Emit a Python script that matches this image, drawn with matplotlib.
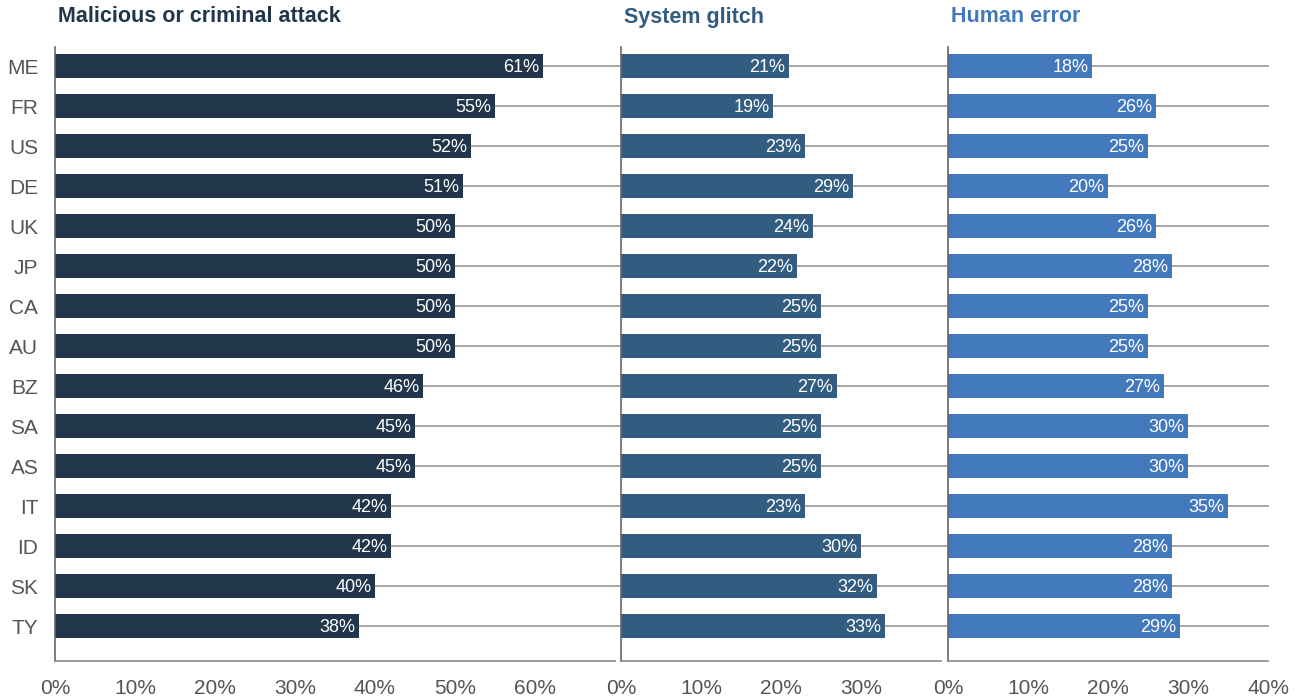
import numpy as np
import matplotlib
matplotlib.use("Agg")
import matplotlib.pyplot as plt

plt.rcParams['font.family'] = ['Liberation Sans', 'DejaVu Sans']

countries = ['ME', 'FR', 'US', 'DE', 'UK', 'JP', 'CA', 'AU', 'BZ', 'SA', 'AS', 'IT', 'ID', 'SK', 'TY']
malicious = [61, 55, 52, 51, 50, 50, 50, 50, 46, 45, 45, 42, 42, 40, 38]
glitch = [21, 19, 23, 29, 24, 22, 25, 25, 27, 25, 25, 23, 30, 32, 33]
human = [18, 26, 25, 20, 26, 28, 25, 25, 27, 30, 30, 35, 28, 28, 29]

titles = ['Malicious or criminal attack', 'System glitch', 'Human error']
colors = ['#22364b', '#325d80', '#4279bc']
series = [malicious, glitch, human]
xmax = [70, 40, 40]
ticks = [np.arange(0, 61, 10), np.arange(0, 31, 10), np.arange(0, 41, 10)]

W, H = 1302, 696
fig = plt.figure(figsize=(W / 100, H / 100), dpi=100)
lefts = [55, 621, 948]
widths = [560, 320, 320]
bottom = 1 - 661 / H
height = (661 - 47) / H

y = np.arange(len(countries))
for i in range(3):
    ax = fig.add_axes([lefts[i] / W, bottom, widths[i] / W, height])
    for yy in y:
        ax.axhline(yy, color='#a8a8a8', lw=1.4, zorder=0, clip_on=False,
                   xmin=-0.02 if i > 0 else 0, xmax=1.0)
    ax.barh(y, series[i], height=0.6, color=colors[i], zorder=2)
    for yy, v in zip(y, series[i]):
        ax.text(v - 0.45, yy, f'{v}%', ha='right', va='center_baseline', color='white',
                fontsize=13, zorder=3)
    ax.set_xlim(0, xmax[i])
    ax.set_ylim(14.875, -0.475)
    ax.set_xticks(ticks[i])
    ax.set_xticklabels([f'{t}%' for t in ticks[i]])
    ax.tick_params(axis='x', length=0, pad=13, labelsize=15, labelcolor='#555555')
    if i == 0:
        ax.set_yticks(y)
        ax.set_yticklabels(countries)
        ax.tick_params(axis='y', length=0, pad=12, labelsize=15, labelcolor='#555555')
    else:
        ax.set_yticks([])
    for s in ['top', 'right']:
        ax.spines[s].set_visible(False)
    ax.spines['left'].set_color('#666666')
    ax.spines['bottom'].set_color('#888888')
    ax.spines['left'].set_linewidth(1.2)
    ax.spines['bottom'].set_linewidth(1.2)
    fig.text(lefts[i] / W + 3 / W, 1 - 17 / H, titles[i], ha='left', va='center',
             fontsize=15.5, fontweight='bold', color=colors[i])

fig.savefig('out.png', dpi=100)
